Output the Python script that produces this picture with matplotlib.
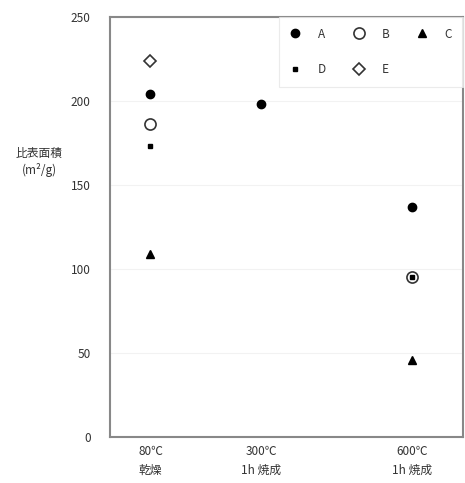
import matplotlib
matplotlib.use("Agg")
import matplotlib.pyplot as plt

plt.rcParams['font.family'] = ['Noto Sans CJK JP', 'DejaVu Sans']

# firing temperature (x position) and tick labels
temps = [80, 300, 600]
tick_labels = ["80℃\n乾燥", "300℃\n1h 焼成", "600℃\n1h 焼成"]

# specific surface area (m2/g) per sample
a_x = [80, 300, 600]
a_y = [204, 198, 137]
b_x = [80, 600]
b_y = [186, 95]
c_x = [80, 600]
c_y = [109, 46]
d_x = [80, 600]
d_y = [173, 95]
e_x = [80]
e_y = [224]

fig = plt.figure(figsize=(4.65, 4.83), dpi=100)
ax = fig.add_axes([0.237, 0.095, 0.758, 0.87])

hA, = ax.plot(a_x, a_y, 'o', color='black', ms=6, ls='none', label='A')
hB, = ax.plot(b_x, b_y, 'o', mfc='white', mec='#333333', mew=1.2, ms=8, ls='none', label='B')
hC, = ax.plot(c_x, c_y, '^', color='black', ms=6, ls='none', label='C')
hD, = ax.plot(d_x, d_y, 's', color='black', ms=2.8, ls='none', label='D')
hE, = ax.plot(e_x, e_y, 'D', mfc='white', mec='#333333', mew=1.2, ms=6.5, ls='none', label='E')

ax.set_xlim(0, 700)
ax.set_ylim(0, 250)
ax.set_xticks(temps)
ax.set_xticklabels(tick_labels, fontsize=8.5, color='#333333', linespacing=1.5)
ax.set_yticks(range(0, 251, 50))
ax.tick_params(axis='y', labelsize=8.5, colors='#333333', length=0, pad=14)
ax.tick_params(axis='x', length=0, pad=6)
ax.grid(axis='y', color='#f2f2f2', lw=0.8)
ax.set_axisbelow(True)
for s in ax.spines.values():
    s.set_color('#888888')
    s.set_linewidth(1.5)

fig.text(0.085, 0.665, "比表面積\n(m²/g)", ha='center', va='center',
         fontsize=8.5, color='#333333', linespacing=1.3)

leg = ax.legend([hA, hD, hB, hE, hC], ['A', 'D', 'B', 'E', 'C'], ncol=3,
                loc='upper right', fontsize=8.5, frameon=True, fancybox=False,
                handlelength=1.0, handletextpad=1.4, columnspacing=2.3,
                borderpad=0.9, labelspacing=1.9, borderaxespad=0.0)
leg.get_frame().set_edgecolor('#e6e6e6')
leg.get_frame().set_linewidth(0.8)
for t in leg.get_texts():
    t.set_color('#333333')

fig.savefig("out.png", dpi=100)
